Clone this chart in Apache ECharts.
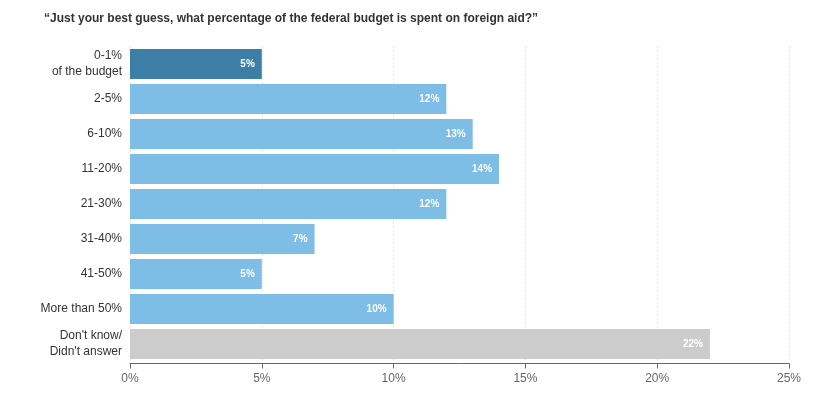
<!DOCTYPE html>
<html>
<head>
<meta charset="utf-8">
<script src="https://cdn.jsdelivr.net/npm/echarts@6/dist/echarts.min.js"></script>
<style>
html, body { margin: 0; padding: 0; background: #fff; }
#container { width: 831px; height: 399px; }
</style>
</head>
<body>
<div id="container"></div>
<script>
// data
var categories = ['0-1%\nof the budget', '2-5%', '6-10%', '11-20%', '21-30%', '31-40%', '41-50%', 'More than 50%', "Don't know/\nDidn't answer"];
var values = [5, 12, 13, 14, 12, 7, 5, 10, 22];
var barColors = ['#3d7ea6', '#7dbde6', '#7dbde6', '#7dbde6', '#7dbde6', '#7dbde6', '#7dbde6', '#7dbde6', '#cccccc'];
var xTicks = [0, 5, 10, 15, 20, 25];

var dom = document.getElementById('container');
var myChart = echarts.init(dom);

var option = {
    backgroundColor: '#fff',
    animation: false,
    title: {
        text: '\u201cJust your best guess, what percentage of the federal budget is spent on foreign aid?\u201d',
        left: 39,
        top: 8,
        textStyle: {
            fontFamily: 'Liberation Sans, Arial',
            fontSize: 12,
            fontWeight: 'bold',
            color: '#333'
        }
    },
    grid: {
        left: 130,
        right: 42,
        top: 46.5,
        bottom: 37.5,
        containLabel: false
    },
    xAxis: {
        type: 'value',
        min: xTicks[0],
        max: xTicks[xTicks.length - 1],
        interval: 5,
        offset: 2,
        axisLine: { show: true, lineStyle: { color: '#666', width: 1 } },
        axisTick: { show: true, length: 5, lineStyle: { color: '#666' } },
        axisLabel: {
            formatter: '{value}%',
            color: '#666',
            fontFamily: 'Liberation Sans, Arial',
            fontSize: 12,
            margin: 9
        },
        splitLine: {
            show: true,
            lineStyle: { color: '#c8c8c8', type: [1, 3], width: 1 }
        }
    },
    yAxis: {
        type: 'category',
        inverse: true,
        data: categories,
        axisLine: { show: false },
        axisTick: { show: false },
        axisLabel: {
            color: '#333',
            fontFamily: 'Liberation Sans, Arial',
            fontSize: 12,
            lineHeight: 16,
            margin: 8,
            align: 'right'
        }
    },
    series: [{
        type: 'bar',
        barWidth: 30,
        data: values.map(function (v, i) {
            return { value: v, itemStyle: { color: barColors[i] } };
        }),
        label: {
            show: true,
            position: 'insideRight',
            distance: 7,
            formatter: '{c}%',
            color: '#fff',
            fontFamily: 'Liberation Sans, Arial',
            fontSize: 10,
            fontWeight: 'bold'
        }
    }]
};
myChart.setOption(option);
</script>
</body>
</html>
